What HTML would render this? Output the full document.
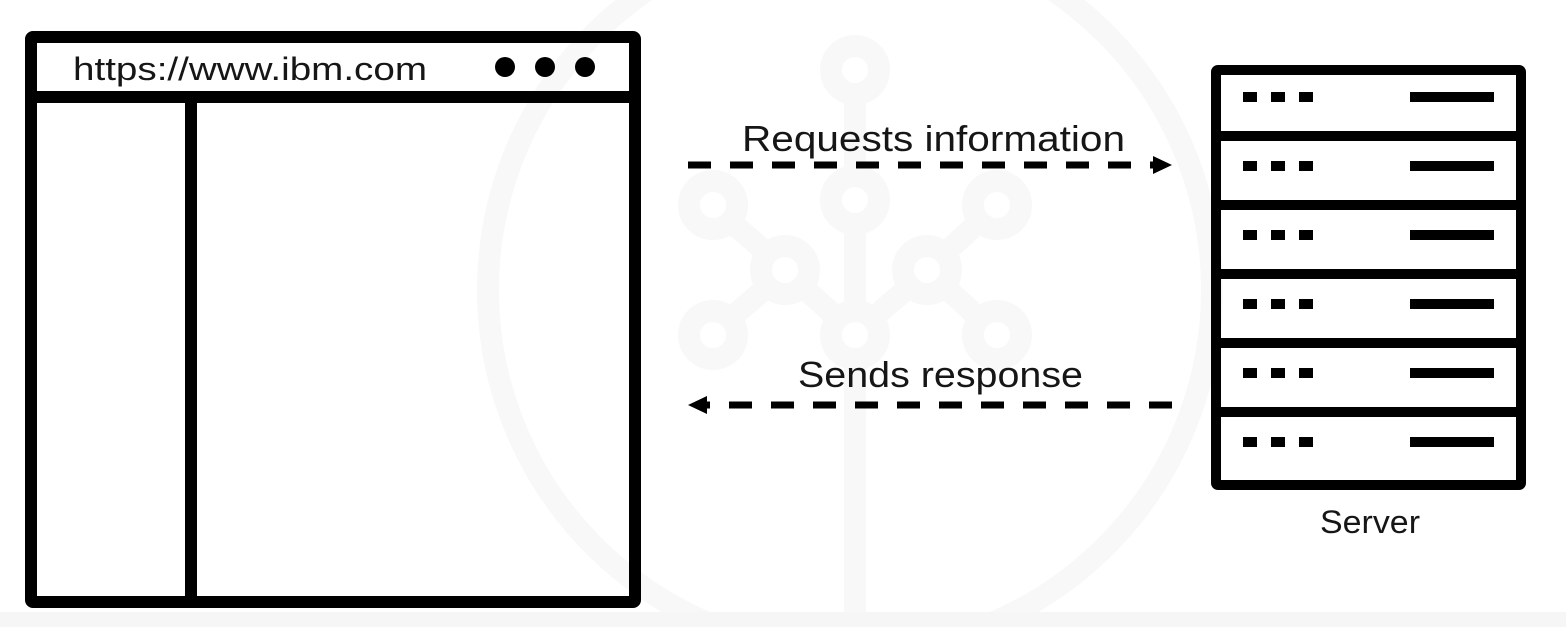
<!DOCTYPE html>
<html><head><meta charset="utf-8"><style>
html,body{margin:0;padding:0;background:#fff;}
svg{display:block;}
text{font-family:"Liberation Sans",sans-serif;fill:#161616;}
</style></head><body>
<svg width="1566" height="627" viewBox="0 0 1566 627" xmlns="http://www.w3.org/2000/svg">
<rect width="1566" height="627" fill="#fff"/>
<!-- watermark -->
<g fill="none" stroke="#f8f8f8" stroke-width="22">
<circle cx="850" cy="290" r="362"/>
<circle cx="855" cy="70" r="24"/>
<circle cx="855" cy="200" r="24"/>
<circle cx="713" cy="205" r="24"/>
<circle cx="997" cy="205" r="24"/>
<circle cx="785" cy="270" r="24"/>
<circle cx="927" cy="270" r="24"/>
<circle cx="713" cy="335" r="24"/>
<circle cx="997" cy="335" r="24"/>
<circle cx="855" cy="335" r="24"/>
<path d="M855 94V176M855 224V311M731 222L767 253M979 222L945 253M731 318L767 287M979 318L945 287M803 287L837 318M909 287L873 318M855 359V620"/>
</g>
<rect x="0" y="612" width="1566" height="15" fill="#f6f6f6"/>
<!-- browser -->
<g fill="none" stroke="#000" stroke-width="12" stroke-linejoin="round">
<rect x="31" y="37" width="604" height="565" rx="2"/>
<line x1="31" y1="97" x2="635" y2="97"/>
<line x1="191" y1="97" x2="191" y2="602"/>
</g>
<text x="73" y="80" font-size="32" textLength="354" lengthAdjust="spacingAndGlyphs">https://www.ibm.com</text>
<circle cx="505" cy="67" r="10" fill="#000"/>
<circle cx="545" cy="67" r="10" fill="#000"/>
<circle cx="585" cy="67" r="10" fill="#000"/>
<!-- arrows -->
<text x="742" y="151" font-size="36" textLength="383" lengthAdjust="spacingAndGlyphs">Requests information</text>
<line x1="688" y1="165" x2="1155" y2="165" stroke="#000" stroke-width="7" stroke-dasharray="23,19"/>
<polygon points="1172,165 1153,156 1153,174" fill="#000"/>
<text x="798" y="387" font-size="36" textLength="285" lengthAdjust="spacingAndGlyphs">Sends response</text>
<line x1="1172" y1="405" x2="705" y2="405" stroke="#000" stroke-width="7" stroke-dasharray="23,19"/>
<polygon points="688,405 707,396 707,414" fill="#000"/>
<!-- server -->
<g fill="none" stroke="#000" stroke-width="10" stroke-linejoin="round">
<rect x="1216" y="70" width="305" height="415" rx="2"/>
<line x1="1216" y1="136" x2="1521" y2="136"/>
<line x1="1216" y1="205" x2="1521" y2="205"/>
<line x1="1216" y1="274" x2="1521" y2="274"/>
<line x1="1216" y1="343" x2="1521" y2="343"/>
<line x1="1216" y1="412" x2="1521" y2="412"/>
</g>
<g fill="#000">
<g id="s"><rect x="1243" y="92" width="14" height="10"/><rect x="1271" y="92" width="14" height="10"/><rect x="1299" y="92" width="14" height="10"/><rect x="1410" y="92" width="84" height="10"/></g>
<use href="#s" y="69"/><use href="#s" y="138"/><use href="#s" y="207"/><use href="#s" y="276"/><use href="#s" y="345"/>
</g>
<text x="1320" y="533" font-size="32" textLength="100" lengthAdjust="spacingAndGlyphs">Server</text>
</svg>
</body></html>
